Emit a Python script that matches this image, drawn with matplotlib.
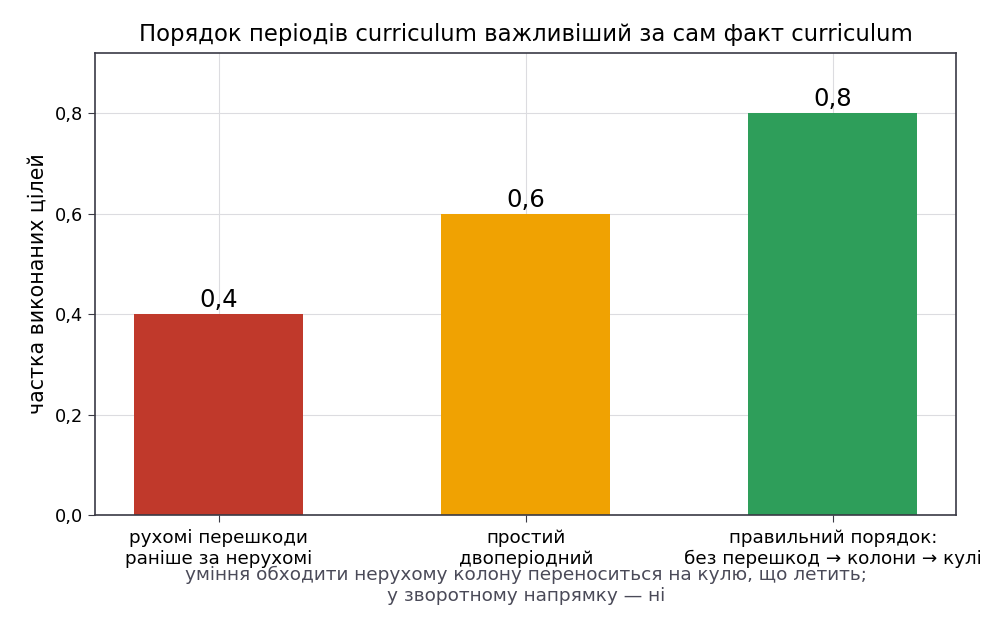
import matplotlib.pyplot as plt
from matplotlib.ticker import FuncFormatter

# дані
categories = ['рухомі перешкоди\nраніше за нерухомі',
              'простий\nдвоперіодний',
              'правильний порядок:\nбез перешкод → колони → кулі']
values = [0.4, 0.6, 0.8]
colors = ['#c0392b', '#f0a202', '#2e9e5a']
title = 'Порядок періодів curriculum важливіший за сам факт curriculum'
ylabel = 'частка виконаних цілей'
note = 'уміння обходити нерухому колону переноситься на кулю, що летить;\nу зворотному напрямку — ні'

plt.rcParams['font.family'] = ['DejaVu Sans']

def fmt(v, pos=None):
    return ('%.1f' % v).replace('.', ',')

fig = plt.figure(figsize=(10.07, 6.29), dpi=100)
ax = fig.add_axes([0.0943, 0.181, 0.8555, 0.7347])

x = range(len(categories))
bars = ax.bar(x, values, width=0.55, color=colors, zorder=2)
for b, v in zip(bars, values):
    ax.text(b.get_x() + b.get_width() / 2, v + 0.004, fmt(v),
            ha='center', va='bottom', fontsize=17.5, color='black')

ax.set_xticks(list(x))
ax.set_xticklabels(categories, fontsize=13.2, linespacing=1.2)
ax.set_ylim(0, 0.92)
ax.set_yticks([0, 0.2, 0.4, 0.6, 0.8])
ax.yaxis.set_major_formatter(FuncFormatter(fmt))
ax.tick_params(axis='y', labelsize=12.8)
ax.set_ylabel(ylabel, fontsize=14.8, labelpad=5)
ax.set_title(title, fontsize=16.4, pad=8.5)
ax.grid(True, color='#dcdce0', linewidth=0.8, zorder=0)
for s in ax.spines.values():
    s.set_color('#3a3a45')
    s.set_linewidth(1.2)
ax.tick_params(color='#3a3a45', length=5)
ax.tick_params(axis='x', pad=5)

ax.text(0.5, -0.11, note, transform=ax.transAxes, ha='center', va='top',
        fontsize=13.3, color='#4a4a58', linespacing=1.2)

fig.savefig('out.png', dpi=100)
